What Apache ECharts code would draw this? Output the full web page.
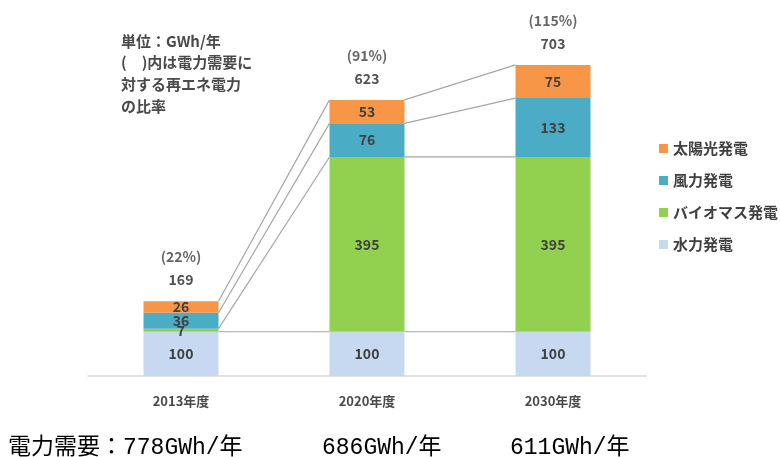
<!DOCTYPE html>
<html><head><meta charset="utf-8">
<script src="https://cdn.jsdelivr.net/npm/echarts@6/dist/echarts.min.js"></script>
<style>html,body{margin:0;padding:0;background:#fff}#c{width:780px;height:457px}</style>
</head><body><div id="c"></div>
<script>
const categories = ['2013年度', '2020年度', '2030年度'];
const hydro = [100, 100, 100];
const biomass = [7, 395, 395];
const wind = [36, 76, 133];
const solar = [26, 53, 75];
const totals = [169, 623, 703];
const ratios = ['22%', '91%', '115%'];
const demand = ['電力需要：778GWh/年', '686GWh/年', '611GWh/年'];
const seriesNames = ['水力発電', 'バイオマス発電', '風力発電', '太陽光発電'];
const colors = ['#C6D9F1', '#92D050', '#4BACC6', '#F79646'];

const FONT = '"Noto Sans CJK JP", "Noto Sans", sans-serif';
const BAR_W = 75;
const stacks = [hydro, biomass, wind, solar];
const cum = categories.map((_, i) => {
  let s = 0; return stacks.map(a => (s += a[i]));
});
const connectors = [];
for (let i = 0; i < categories.length - 1; i++) {
  for (let k = 0; k < stacks.length; k++) connectors.push([i, cum[i][k], cum[i + 1][k]]);
}

const chart = echarts.init(document.getElementById('c'));
const barSeries = stacks.map((arr, k) => ({
  name: seriesNames[k], type: 'bar', stack: 'all', barWidth: BAR_W, data: arr,
  itemStyle: { color: colors[k] }, z: 3,
  label: { show: true, position: 'inside', color: '#404040', fontWeight: 'bold', fontSize: 14, fontFamily: FONT }
}));
const DFONT = '23px "Liberation Mono", "Noto Sans CJK JP"';

chart.setOption({
  animation: false,
  textStyle: { fontFamily: FONT },
  grid: { left: 88, right: 134, top: 22, bottom: 81 },
  xAxis: {
    type: 'category', data: categories,
    axisLine: { lineStyle: { color: '#d9d9d9', width: 1.5 } },
    axisTick: { show: false },
    axisLabel: { color: '#4a4a4a', fontWeight: 'bold', fontSize: 13, margin: 19, fontFamily: FONT }
  },
  yAxis: { type: 'value', min: 0, max: 800, show: false, splitLine: { show: false } },
  legend: {
    orient: 'vertical', left: 654, top: 136, itemWidth: 9, itemHeight: 9, itemGap: 17,
    data: ['太陽光発電', '風力発電', 'バイオマス発電', '水力発電'],
    icon: 'rect',
    textStyle: { color: '#404040', fontWeight: 'bold', fontSize: 15, fontFamily: FONT }
  },
  series: [
    {
      type: 'custom', data: connectors, z: 1, silent: true,
      renderItem: function (params, api) {
        const a = api.coord([api.value(0), api.value(1)]);
        const b = api.coord([api.value(0) + 1, api.value(2)]);
        return { type: 'line', shape: { x1: a[0] + BAR_W / 2, y1: a[1], x2: b[0] - BAR_W / 2, y2: b[1] },
          style: { stroke: '#a6a6a6', lineWidth: 1.2 } };
      }
    },
    ...barSeries,
    {
      type: 'scatter', data: totals, symbolSize: 0, z: 5, silent: true,
      label: {
        show: true, position: 'top', distance: 10,
        formatter: p => '{p|(' + ratios[p.dataIndex] + ')}\n{t|' + totals[p.dataIndex] + '}',
        rich: {
          p: { color: '#404040', fontWeight: 'bold', fontSize: 14, lineHeight: 23, fontFamily: FONT },
          t: { color: '#262626', fontWeight: 'bold', fontSize: 14, lineHeight: 23, fontFamily: FONT }
        }
      }
    }
  ],
  graphic: [
    { type: 'text', left: 121, top: 30, style: {
      text: '単位：GWh/年\n(　)内は電力需要に\n対する再エネ電力\nの比率',
      fill: '#4a4a4a', font: 'bold 15px ' + FONT, lineHeight: 21.7 } },
    { type: 'text', x: 8, y: 448, style: { text: demand[0], fill: '#000', font: DFONT, verticalAlign: 'middle' } },
    { type: 'text', x: 322, y: 448, style: { text: demand[1], fill: '#000', font: DFONT, verticalAlign: 'middle' } },
    { type: 'text', x: 510, y: 448, style: { text: demand[2], fill: '#000', font: DFONT, verticalAlign: 'middle' } }
  ]
});
</script></body></html>
